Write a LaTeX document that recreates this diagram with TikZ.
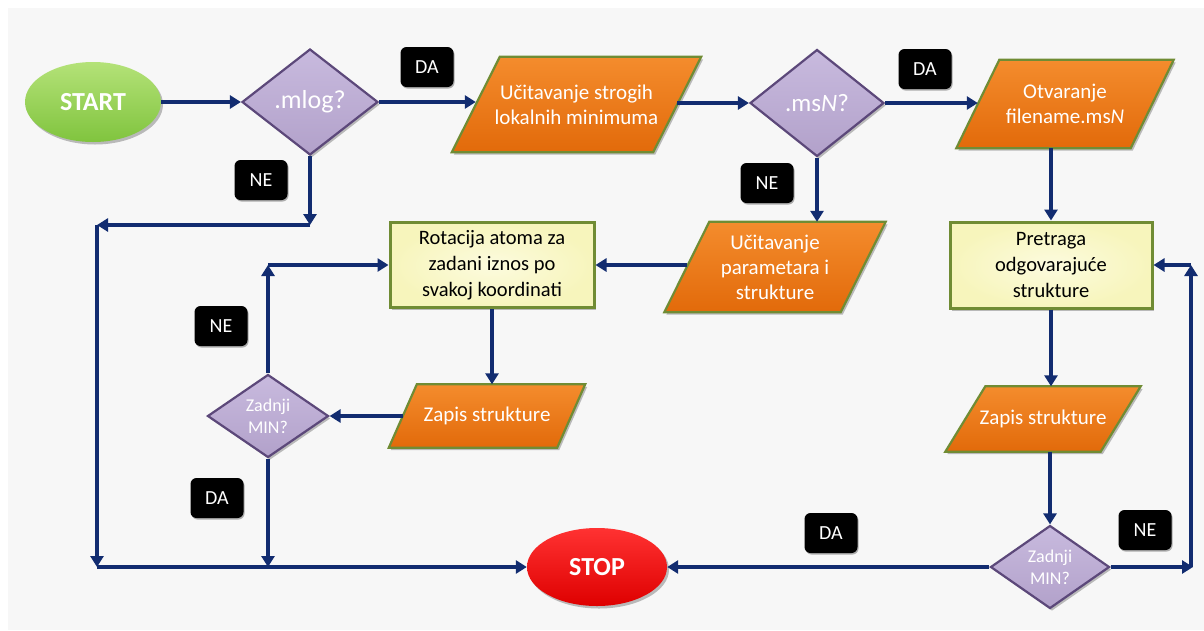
\documentclass[tikz,border=0pt]{standalone}
\usepackage{fontspec}
\setmainfont{Carlito}
\usetikzlibrary{shapes.geometric,arrows.meta,shadows}
\pgfdeclarelayer{bgl}
\pgfdeclarelayer{shp}
\pgfsetlayers{bgl,shp,main}

\definecolor{navy}{RGB}{18,44,112}
\definecolor{orng}{RGB}{226,106,10}
\definecolor{orngl}{RGB}{244,140,45}
\definecolor{olive}{RGB}{112,140,52}
\definecolor{lav}{RGB}{178,161,202}
\definecolor{lavl}{RGB}{200,186,222}
\definecolor{lavd}{RGB}{92,72,122}
\definecolor{yel}{RGB}{247,245,188}
\definecolor{yell}{RGB}{252,251,222}
\definecolor{grn}{RGB}{128,196,62}
\definecolor{grnl}{RGB}{180,226,120}
\definecolor{rd}{RGB}{222,0,0}
\definecolor{rdl}{RGB}{255,50,50}
\definecolor{bg}{RGB}{247,247,247}

\tikzset{
  conn/.style={draw=navy, line width=3.4pt, -{Triangle[length=11pt,width=13pt]}},
  shad/.style={drop shadow={shadow xshift=2pt, shadow yshift=-2.5pt, opacity=0.25, fill=black}},
  pbox/.style={shape=rectangle, inner sep=0pt, text=white, align=center,
    font=\fontsize{21}{25}\selectfont},
  parash/.style={draw=olive, line width=2.2pt, top color=orngl, bottom color=orng,
    line join=miter, shad},
  dec/.style={shape=diamond, draw=lavd, line width=2.2pt, top color=lavl, bottom color=lav,
    text=white, align=center, inner sep=0pt, shad},
  proc/.style={shape=rectangle, draw=olive, line width=3pt, inner color=yell, outer color=yel,
    text=black, align=center, font=\fontsize{20.5}{26}\selectfont, inner sep=0pt, shad},
  term/.style={shape=ellipse, text=white, inner sep=0pt, font=\bfseries\fontsize{26}{26}\selectfont,
    minimum width=136pt, minimum height=80pt, shad},
  lab/.style={shape=rectangle, fill=black, rounded corners=6pt, text=white, inner sep=0pt,
    minimum width=53pt, minimum height=40pt, font=\fontsize{20}{20}\selectfont,
    drop shadow={shadow xshift=1pt, shadow yshift=-1.5pt, opacity=0.3, fill=black}}
}

\begin{document}
\begin{tikzpicture}[x=1pt,y=-1pt]
  \begin{pgfonlayer}{bgl}
    \fill[white] (0,0) rectangle (1204,630);
    \fill[bg] (8,8) rectangle (1204,630);
  \end{pgfonlayer}
  \useasboundingbox (0,0) rectangle (1204,630);

  % top row
  \node[term, top color=grnl, bottom color=grn] (start) at (93,102) {START};
  \node[dec, minimum width=136pt, minimum height=106pt, font=\fontsize{26}{26}\selectfont] (mlog) at (310,102) {.mlog?};
  \node[pbox, minimum width=201pt, minimum height=95pt] (p1) at (576.5,104.5) {U\v{c}itavanje strogih\\lokalnih minimuma};
  \node[dec, minimum width=134pt, minimum height=107pt, font=\fontsize{25}{25}\selectfont] (msn) at (817,103) {.ms\textit{N}?};
  \node[pbox, minimum width=174pt, minimum height=88pt] (p2) at (1065,104) {Otvaranje\\filename.ms\textit{N}};

  % middle row
  \node[proc, minimum width=204pt, minimum height=85pt] (rot) at (492,265) {Rotacija atoma za\\zadani iznos po\\svakoj koordinati};
  \node[pbox, minimum width=176pt, minimum height=90pt] (p3) at (775,267) {U\v{c}itavanje\\parametara i\\strukture};
  \node[proc, minimum width=202pt, minimum height=86pt] (pre) at (1051,265) {Pretraga\\odgovaraju\'{c}e\\strukture};

  % lower rows
  \node[pbox, minimum width=168pt, minimum height=63pt] (z1) at (487,416) {Zapis strukture};
  \node[dec, minimum width=121pt, minimum height=83pt, font=\fontsize{18}{22}\selectfont] (zl) at (268,416) {Zadnji\\MIN?};
  \node[pbox, minimum width=155pt, minimum height=65pt] (z2) at (1043,419) {Zapis strukture};
  \node[dec, minimum width=119pt, minimum height=83pt, font=\fontsize{18}{22}\selectfont] (zr) at (1050,567) {Zadnji\\MIN?};
  \node[term, top color=rdl, bottom color=rd, minimum width=140pt, minimum height=78pt] (stop) at (597,567) {STOP};

  % parallelogram outlines behind their texts
  \begin{pgfonlayer}{shp}
    \path[parash] ([xshift=-24pt]p1.south west) -- ([xshift=-24pt]p1.south east)
      -- ([xshift=24pt]p1.north east) -- ([xshift=24pt]p1.north west) -- cycle;
    \path[parash] ([xshift=-21.5pt]p2.south west) -- ([xshift=-21.5pt]p2.south east)
      -- ([xshift=21.5pt]p2.north east) -- ([xshift=21.5pt]p2.north west) -- cycle;
    \path[parash] ([xshift=-22.5pt]p3.south west) -- ([xshift=-22.5pt]p3.south east)
      -- ([xshift=22.5pt]p3.north east) -- ([xshift=22.5pt]p3.north west) -- cycle;
    \path[parash] ([xshift=-14pt]z1.south west) -- ([xshift=-14pt]z1.south east)
      -- ([xshift=14pt]z1.north east) -- ([xshift=14pt]z1.north west) -- cycle;
    \path[parash] ([xshift=-20pt]z2.south west) -- ([xshift=-20pt]z2.south east)
      -- ([xshift=20pt]z2.north east) -- ([xshift=20pt]z2.north west) -- cycle;
  \end{pgfonlayer}

  % labels
  \node[lab] (da1) at (427,67) {DA};
  \node[lab] (da2) at (925,69) {DA};
  \node[lab] (ne1) at (261,180) {NE};
  \node[lab] (ne2) at (767,183) {NE};
  \node[lab] (ne3) at (221,326) {NE};
  \node[lab] (da3) at (217,498) {DA};
  \node[lab] (da4) at (831,533) {DA};
  \node[lab] (ne4) at (1145,530) {NE};

  % corner coordinates
  \coordinate (c1) at (310,225);
  \coordinate (c2) at (97,225);
  \coordinate (c3) at (97,567);
  \coordinate (c4) at (268,567);
  \coordinate (c5) at (268,265);
  \coordinate (c6) at (1193,567);
  \coordinate (c7) at (1191,265);

  % connectors
  \draw[conn] (start) -- (mlog);
  \draw[conn] (mlog.east) -- (mlog.east -| p1.west);
  \draw[conn] (p1.east |- msn.west) -- (msn.west);
  \draw[conn] (msn.east) -- (msn.east -| p2.west);
  \draw[conn] (msn.south) -- (msn.south |- p3.north);
  \draw[conn] (p3.west |- rot.east) -- (rot.east);
  \draw[conn] (rot.south) -- (rot.south |- z1.north);
  \draw[conn] (z1.west |- zl.east) -- (zl.east);
  \draw[conn] (zl.north) -- (c5);
  \draw[conn] (c5) -- (rot.west);
  \draw[conn] (zl.south) -- (c4);
  \draw[conn] (mlog.south) -- (c1);
  \draw[conn] (c1) -- (c2);
  \draw[conn] (c2) -- (c3);
  \draw[conn] (c3) -- (stop.west);

  \draw[conn] (pre.north |- p2.south) -- (pre.north);
  \draw[conn] (pre.south) -- (pre.south |- z2.north);
  \draw[conn] (zr.north |- z2.south) -- (zr.north);
  \draw[conn] (zr.west) -- (stop.east);
  \draw[conn] (zr.east) -- (c6);
  \draw[conn] ([xshift=-2pt]c6) -- (c7);
  \draw[conn] (c7) -- (pre.east);
\end{tikzpicture}
\end{document}
